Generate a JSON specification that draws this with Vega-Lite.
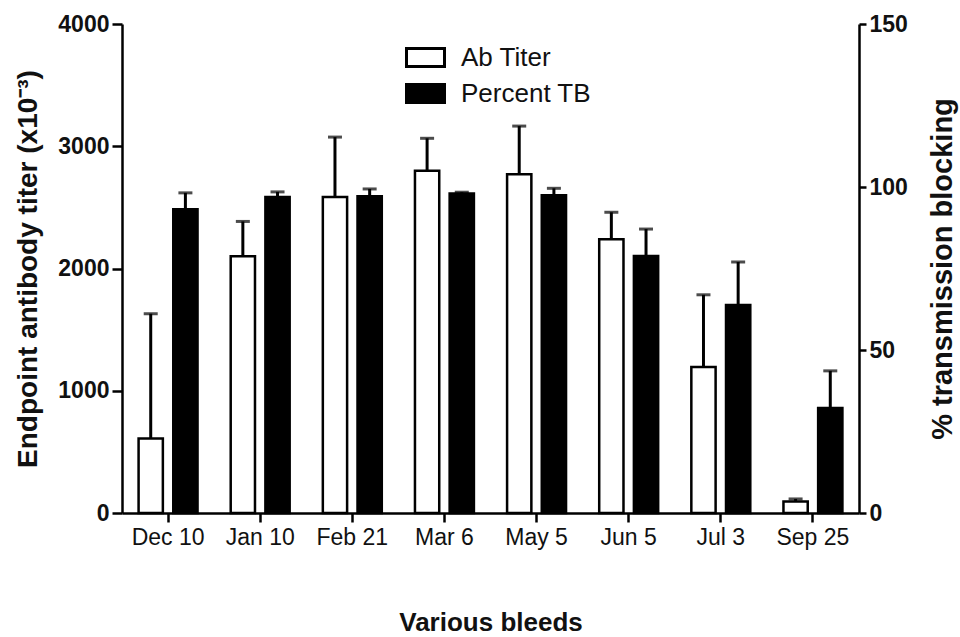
{
  "$schema": "https://vega.github.io/schema/vega-lite/v6.json",
  "width": 737,
  "height": 489,
  "autosize": {"type": "none"},
  "padding": {"left": 122, "top": 24, "right": 101, "bottom": 124},
  "background": "white",
  "config": {
    "view": {"stroke": null},
    "font": "Liberation Sans",
    "axis": {
      "domainColor": "black",
      "domainWidth": 2.5,
      "tickColor": "black",
      "tickWidth": 2.5,
      "grid": false,
      "labelColor": "#111",
      "titleColor": "#111",
      "labelFont": "Liberation Sans",
      "titleFont": "Liberation Sans"
    }
  },
  "data": {
    "values": [
      {"date": "Dec 10", "series": "Ab Titer", "value": 610, "upper": 1630},
      {"date": "Jan 10", "series": "Ab Titer", "value": 2100, "upper": 2385},
      {"date": "Feb 21", "series": "Ab Titer", "value": 2585, "upper": 3075},
      {"date": "Mar 6", "series": "Ab Titer", "value": 2800, "upper": 3065},
      {"date": "May 5", "series": "Ab Titer", "value": 2770, "upper": 3165},
      {"date": "Jun 5", "series": "Ab Titer", "value": 2240, "upper": 2460},
      {"date": "Jul 3", "series": "Ab Titer", "value": 1195, "upper": 1785},
      {"date": "Sep 25", "series": "Ab Titer", "value": 95, "upper": 115},
      {"date": "Dec 10", "series": "Percent TB", "value": 93.2, "upper": 98.2},
      {"date": "Jan 10", "series": "Percent TB", "value": 96.9, "upper": 98.5},
      {"date": "Feb 21", "series": "Percent TB", "value": 97.2, "upper": 99.4},
      {"date": "Mar 6", "series": "Percent TB", "value": 98.0, "upper": 98.4},
      {"date": "May 5", "series": "Percent TB", "value": 97.5, "upper": 99.6},
      {"date": "Jun 5", "series": "Percent TB", "value": 78.8, "upper": 87.1},
      {"date": "Jul 3", "series": "Percent TB", "value": 63.8, "upper": 77.0},
      {"date": "Sep 25", "series": "Percent TB", "value": 32.2, "upper": 43.6}
    ]
  },
  "encoding": {
    "x": {
      "field": "date",
      "type": "nominal",
      "sort": ["Dec 10", "Jan 10", "Feb 21", "Mar 6", "May 5", "Jun 5", "Jul 3", "Sep 25"],
      "scale": {"paddingInner": 0.36, "paddingOuter": 0.18},
      "axis": {
        "title": "Various bleeds",
        "titleFontSize": 26,
        "titleFontWeight": "bold",
        "titlePadding": 60,
        "labelAngle": 0,
        "labelFontSize": 23,
        "labelFontWeight": "normal",
        "labelPadding": 4,
        "tickSize": 9,
        "domainWidth": 2.5
      }
    },
    "xOffset": {
      "field": "series",
      "type": "nominal",
      "scale": {"domain": ["Ab Titer", "Percent TB"], "paddingInner": 0.3, "paddingOuter": 0}
    }
  },
  "layer": [
    {
      "transform": [{"filter": "datum.series === 'Ab Titer'"}],
      "encoding": {
        "y": {
          "field": "value",
          "type": "quantitative",
          "scale": {"domain": [0, 4000], "nice": false},
          "axis": {
            "orient": "left",
            "title": "Endpoint antibody titer (x10⁻³)",
            "titleFontSize": 28,
            "titleFontWeight": "bold",
            "titlePadding": 15,
            "values": [0, 1000, 2000, 3000, 4000],
            "format": "d",
            "labelFontSize": 23,
            "labelFontWeight": "bold",
            "tickSize": 10,
            "labelPadding": 3
          }
        }
      },
      "layer": [
        {
          "mark": {"type": "bar", "stroke": "black", "strokeWidth": 2.5},
          "encoding": {
            "fill": {
              "field": "series",
              "type": "nominal",
              "scale": {"domain": ["Ab Titer", "Percent TB"], "range": ["white", "black"]},
              "legend": {
                "title": null,
                "orient": "none",
                "legendX": 283,
                "legendY": 13,
                "symbolType": "M-1,-0.47H1V0.47H-1Z",
                "symbolSize": 1444,
                "symbolStrokeColor": "black",
                "symbolStrokeWidth": 3,
                "labelFontSize": 26,
                "labelFont": "Liberation Sans",
                "labelColor": "#111",
                "labelOffset": 15,
                "rowPadding": 0
              }
            }
          }
        },
        {
          "mark": {"type": "rule", "color": "black", "strokeWidth": 3},
          "encoding": {"y2": {"field": "upper"}}
        },
        {
          "mark": {"type": "tick", "color": "black", "thickness": 3, "size": 14},
          "encoding": {"y": {"field": "upper", "type": "quantitative"}}
        }
      ]
    },
    {
      "transform": [{"filter": "datum.series === 'Percent TB'"}],
      "encoding": {
        "y": {
          "field": "value",
          "type": "quantitative",
          "scale": {"domain": [0, 150], "nice": false},
          "axis": {
            "orient": "right",
            "title": "% transmission blocking",
            "titleAngle": 270,
            "titleFontSize": 29,
            "titleFontWeight": "bold",
            "titlePadding": 50,
            "values": [0, 50, 100, 150],
            "labelFontSize": 23,
            "labelFontWeight": "bold",
            "tickSize": 7,
            "labelPadding": 3
          }
        }
      },
      "layer": [
        {
          "mark": {"type": "bar", "stroke": "black", "strokeWidth": 2.5},
          "encoding": {
            "fill": {"field": "series", "type": "nominal"}
          }
        },
        {
          "mark": {"type": "rule", "color": "black", "strokeWidth": 3},
          "encoding": {"y2": {"field": "upper"}}
        },
        {
          "mark": {"type": "tick", "color": "black", "thickness": 3, "size": 14},
          "encoding": {"y": {"field": "upper", "type": "quantitative"}}
        }
      ]
    }
  ],
  "resolve": {"scale": {"y": "independent"}}
}
